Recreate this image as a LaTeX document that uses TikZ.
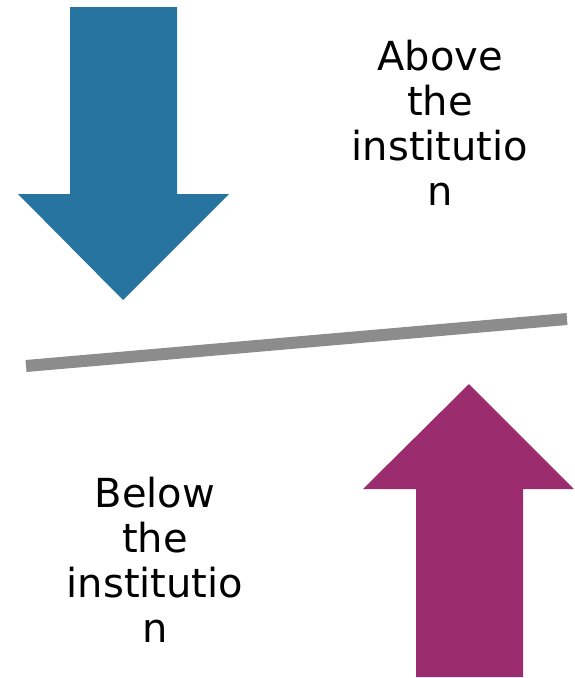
\documentclass[tikz,border=0pt]{standalone}
\usepackage{fontspec}
\setmainfont{DejaVu Sans}
\definecolor{downblue}{HTML}{2874A0}
\definecolor{upmagenta}{HTML}{9B2D6F}
\definecolor{bargray}{HTML}{8C8C8C}
\begin{document}
\begin{tikzpicture}[x=1pt,y=-1pt,
  label text/.style={inner sep=0pt, align=center, font=\fontsize{40}{45}\selectfont, anchor=base}]
\useasboundingbox (0,0) rectangle (574,678);
% downward arrow from above
\fill[downblue] (70,7) -- (177,7) -- (177,194) -- (229,194) -- (123,300)
  -- (18,194) -- (70,194) -- cycle;
% upward arrow from below
\fill[upmagenta] (416,677) -- (523,677) -- (523,489) -- (574,489) -- (469,384)
  -- (363,489) -- (416,489) -- cycle;
% the tilted dividing line
\coordinate (barL) at (26,366);
\coordinate (barR) at (567,319);
\draw[bargray, line width=12pt] (barL) -- (barR);
% labels (base anchor sits on the last line)
\node[label text] (above) at (440,205) {Above\\the\\institutio\\n};
\node[label text] (below) at (155,642) {Below\\the\\institutio\\n};
\end{tikzpicture}
\end{document}
